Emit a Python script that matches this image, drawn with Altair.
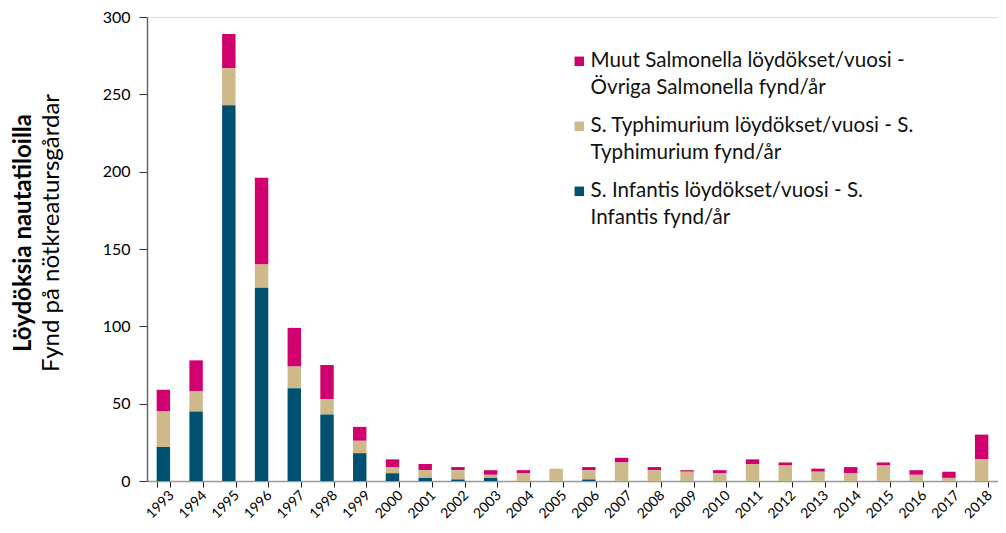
import altair as alt
import pandas as pd

years = [str(y) for y in range(1993, 2019)]
infantis = [22, 45, 243, 125, 60, 43, 18, 5, 2, 1, 2, 0, 0, 1, 0, 0, 0, 0, 0, 0, 0, 0, 0, 0, 0, 0]
typhimurium = [23, 13, 24, 15, 14, 10, 8, 4, 5, 6, 2, 5, 8, 6, 12, 7, 6, 5, 11, 10, 6, 5, 10, 4, 2, 14]
muut = [14, 20, 22, 56, 25, 22, 9, 5, 4, 2, 3, 2, 0, 2, 3, 2, 1, 2, 3, 2, 2, 4, 2, 3, 4, 16]

series_names = [
    "Muut Salmonella löydökset/vuosi -|Övriga Salmonella fynd/år",
    "S. Typhimurium löydökset/vuosi - S.|Typhimurium fynd/år",
    "S. Infantis löydökset/vuosi - S.|Infantis fynd/år",
]
series_colors = ["#D1006F", "#CDB98A", "#00506F"]
series_values = [muut, typhimurium, infantis]
stack_order = [2, 1, 0]

title_bold = "Löydöksia nautatiloilla"
title_normal = "Fynd på nötkreatursgårdar"

rows = []
for name, vals, o in zip(series_names, series_values, stack_order):
    for y, v in zip(years, vals):
        rows.append({"year": y, "series": name, "value": v, "ord": o})
df = pd.DataFrame(rows)

FONT = "Lato"

bars = alt.Chart(df).mark_bar().encode(
    x=alt.X("year:N", sort=years, title=None,
            scale=alt.Scale(paddingInner=0.59, paddingOuter=0.295),
            axis=alt.Axis(labelAngle=-45, labelAlign="right", labelBaseline="top",
                          labelFontSize=14, labelFont=FONT, labelColor="#000",
                          tickBand="extent", tickColor="#222", tickSize=6,
                          domainColor="#999", domainWidth=1.5, labelPadding=1,
                          labelOffset=3)),
    y=alt.Y("value:Q", title=None, stack="zero",
            scale=alt.Scale(domain=[0, 300], nice=False),
            axis=alt.Axis(values=[0, 50, 100, 150, 200, 250, 300], grid=False,
                          labelFontSize=16, labelFont=FONT, labelColor="#000",
                          tickColor="#333", tickSize=8, domainColor="#666",
                          domainWidth=1.5, labelPadding=9)),
    color=alt.Color("series:N", sort=series_names,
                    scale=alt.Scale(domain=series_names, range=series_colors),
                    legend=alt.Legend(title=None, orient="none", legendX=422, legendY=34,
                                      symbolType="square", symbolSize=90, symbolStrokeWidth=0,
                                      labelExpr="split(datum.label, '|')",
                                      labelFont=FONT, labelFontSize=20.6, labelColor="#111",
                                      labelLimit=500, labelBaseline="middle", labelOffset=1,
                                      rowPadding=17)),
    order=alt.Order("ord:Q", sort="ascending"),
)

t1 = alt.Chart(pd.DataFrame({"t": [title_bold]})).mark_text(
    angle=270, font=FONT, fontSize=24, fontWeight="bold", align="center", baseline="middle", color="#000"
).encode(text="t:N", x=alt.value(-123), y=alt.value(216))

t2 = alt.Chart(pd.DataFrame({"t": [title_normal]})).mark_text(
    angle=270, font=FONT, fontSize=24, align="center", baseline="middle", color="#000"
).encode(text="t:N", x=alt.value(-95), y=alt.value(216))

chart = alt.layer(bars, t1, t2).properties(
    width=851, height=464,
    padding={"left": 139, "top": 9, "right": 0, "bottom": 40},
    autosize=alt.AutoSizeParams(type="none"),
).configure_view(stroke=None).configure(style={"guide-label": {"lineHeight": 27}})

chart.save("out.html", embed_options={"renderer": "svg", "actions": False})
